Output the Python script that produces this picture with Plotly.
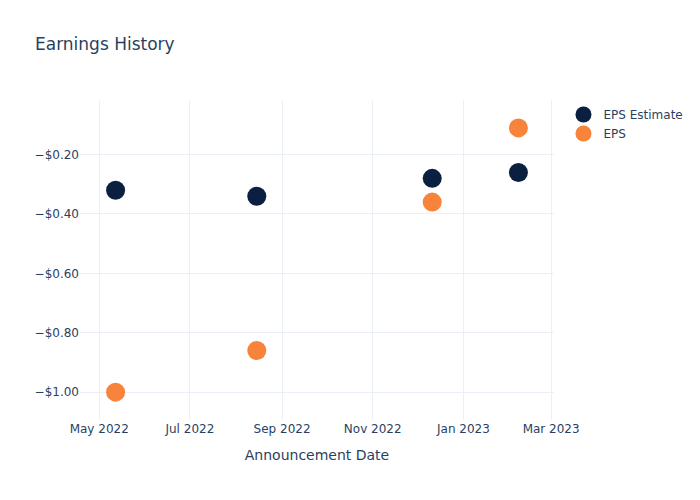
import plotly.graph_objects as go

dates = ["2022-05-12", "2022-08-15", "2022-12-11", "2023-02-07"]
eps_estimate = [-0.32, -0.34, -0.28, -0.26]
eps_actual = [-1.00, -0.86, -0.36, -0.11]

fig = go.Figure()
fig.add_trace(go.Scatter(x=dates, y=eps_estimate, mode="markers", name="EPS Estimate",
                         marker=dict(color="#0B1F41", size=19)))
fig.add_trace(go.Scatter(x=dates, y=eps_actual, mode="markers", name="EPS",
                         marker=dict(color="#F7843A", size=19)))
fig.update_layout(
    template="plotly_white",
    width=700, height=500,
    font=dict(family="DejaVu Sans"),
    title=dict(text="Earnings History"),
    xaxis=dict(title=dict(text="Announcement Date")),
    yaxis=dict(tickformat="$.2f"),
)
fig.write_html("out.html")
